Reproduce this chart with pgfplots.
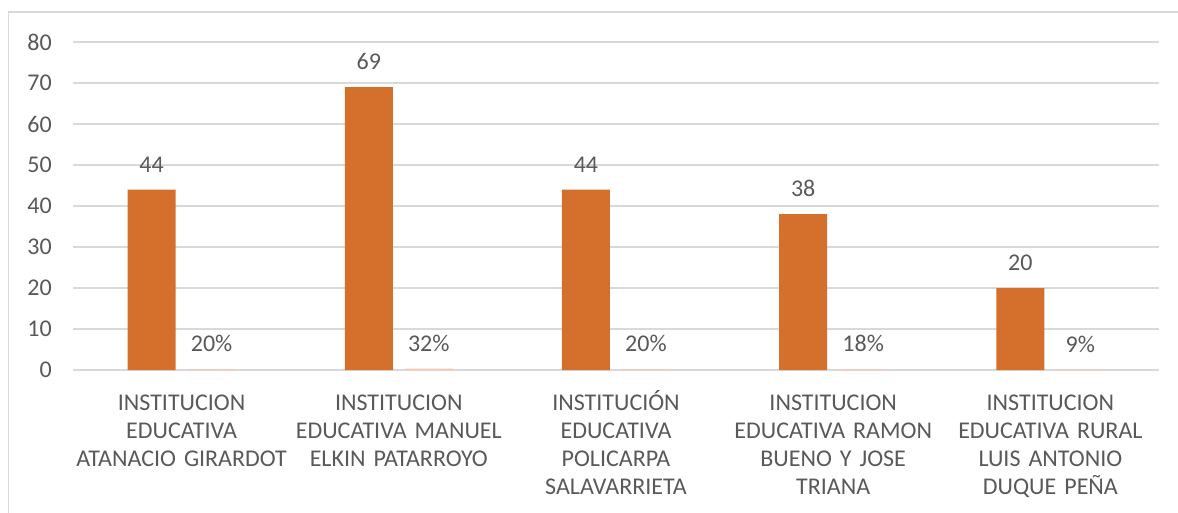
\documentclass[border=0pt]{standalone}
\usepackage{pgfplots}
\pgfplotsset{compat=1.18}
\usepackage{fontspec}
\setmainfont{Carlito}
\definecolor{barA}{HTML}{D46F2C}
\definecolor{barB}{HTML}{F2C9B4}
\definecolor{txt}{HTML}{595959}
\definecolor{gridc}{HTML}{D9D9D9}
\newcommand{\ac}{\vphantom{Ó}}
\begin{document}
\begin{tikzpicture}[x=1pt,y=1pt]
\useasboundingbox (0,0) rectangle (1178,512);
\clip (0,0) rectangle (1178,512);
\draw[gridc, line width=1.2pt] (8.5,-20) rectangle (1200,500);
\begin{axis}[
  at={(73pt,142pt)}, anchor=south west,
  scale only axis, width=1086pt, height=328pt,
  xmin=-0.5, xmax=4.5, ymin=0, ymax=80,
  ytick={0,10,...,80},
  ymajorgrids, grid style={gridc, line width=1.2pt},
  axis line style={draw=none},
  tick style={draw=none},
  ybar=12pt, bar width=48pt,
  /pgf/number format/assume math mode=true,
  ticklabel style={font=\fontsize{24}{28}\selectfont, text=txt},
  yticklabel style={inner sep=0pt, xshift=-21pt},
  xtick={0,...,4},
  xticklabels={
    {\ac INSTITUCION\\EDUCATIVA\\ATANACIO GIRARDOT},
    {\ac INSTITUCION\\EDUCATIVA MANUEL\\ELKIN PATARROYO},
    {\ac INSTITUCIÓN\\EDUCATIVA\\POLICARPA\\SALAVARRIETA},
    {\ac INSTITUCION\\EDUCATIVA RAMON\\BUENO Y JOSE\\TRIANA},
    {\ac INSTITUCION\\EDUCATIVA RURAL\\LUIS ANTONIO\\DUQUE PEÑA}},
  xticklabel style={align=center, text width=230pt, anchor=north, inner sep=0pt, yshift=-16pt},
  nodes near coords,
  point meta=explicit symbolic,
  every node near coord/.append style={font=\fontsize{24}{28}\selectfont, text=txt, inner sep=0pt, anchor=south, yshift=17pt},
]
\addplot[fill=barA, draw=none] coordinates {(0,44) [44] (1,69) [69] (2,44) [44] (3,38) [38] (4,20) [20]};
\addplot[fill=barB, draw=none] coordinates {(0,0.20) [20\%] (1,0.32) [32\%] (2,0.20) [20\%] (3,0.18) [18\%] (4,0.09) [9\%]};
\end{axis}
\end{tikzpicture}
\end{document}
